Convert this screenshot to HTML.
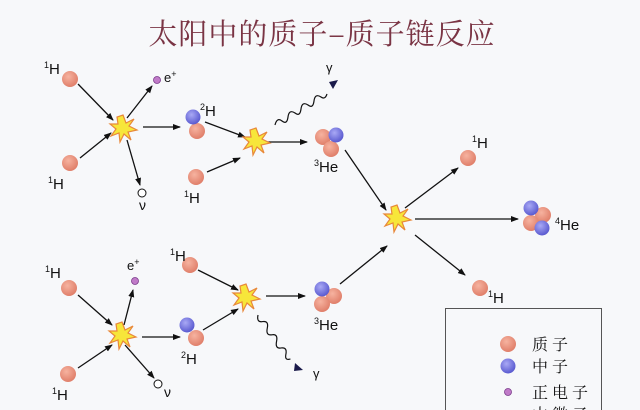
<!DOCTYPE html>
<html><head><meta charset="utf-8"><style>
html,body{margin:0;padding:0;background:#f7f8fa;}
svg{display:block;}
text{font-family:"Liberation Sans",sans-serif;fill:#111;}
.cj{font-family:"Noto Serif CJK SC","Noto Sans CJK SC",serif;}
</style></head><body>
<svg width="640" height="410" viewBox="0 0 640 410" xmlns="http://www.w3.org/2000/svg">
<defs>
<radialGradient id="p" cx="40%" cy="35%" r="65%"><stop offset="0" stop-color="#f6b3a0"/><stop offset="1" stop-color="#e07f6a"/></radialGradient>
<radialGradient id="n" cx="40%" cy="35%" r="65%"><stop offset="0" stop-color="#a9a9f5"/><stop offset="1" stop-color="#5a5ad0"/></radialGradient>
<marker id="a" markerWidth="8" markerHeight="8" refX="7" refY="4" orient="auto" markerUnits="userSpaceOnUse"><path d="M0,1 L8,4 L0,7 Z" fill="#111"/></marker>
<g id="st"><polygon points="0,-13 3,-5 11,-9 6,-2 14,2 5,4 8,12 1,6 -3,14 -4,5 -12,8 -7,1 -13,-4 -5,-4 -6,-11" fill="#f7e63a" stroke="#e8883a" stroke-width="1.2"/></g>
</defs>
<rect width="640" height="410" fill="#f7f8fa"/>
<text x="322" y="44" text-anchor="middle" class="cj" font-size="29" style="fill:#7a3444" letter-spacing="1">太阳中的质子–质子链反应</text>
<g stroke="#111" stroke-width="1.3" fill="none" marker-end="url(#a)">
<line x1="78" y1="84" x2="113" y2="120"/><line x1="80" y1="158" x2="111" y2="133"/>
<line x1="127" y1="118" x2="152" y2="86"/><line x1="127" y1="140" x2="140" y2="185"/>
<line x1="143" y1="127" x2="180" y2="127"/><line x1="205" y1="122" x2="245" y2="137"/>
<line x1="207" y1="172" x2="240" y2="158"/><line x1="265" y1="142" x2="307" y2="142"/>
<line x1="345" y1="150" x2="386" y2="210"/><line x1="405" y1="208" x2="458" y2="168"/>
<line x1="415" y1="219" x2="518" y2="219"/><line x1="415" y1="235" x2="465" y2="275"/>
<line x1="78" y1="295" x2="112" y2="325"/><line x1="78" y1="368" x2="112" y2="345"/>
<line x1="124" y1="325" x2="133" y2="290"/><line x1="125" y1="345" x2="154" y2="378"/>
<line x1="142" y1="337" x2="180" y2="337"/><line x1="198" y1="270" x2="238" y2="290"/>
<line x1="203" y1="330" x2="238" y2="309"/><line x1="266" y1="296" x2="305" y2="296"/>
<line x1="340" y1="284" x2="387" y2="246"/>
</g>
<path d="M275,125 q2,-8 7,-4 q5,4 6,-4 q1,-8 7,-4 q5,4 6,-4 q1,-8 7,-4 q5,4 6,-4 q1,-8 7,-4 q4,3 6,-3" stroke="#111" stroke-width="1.2" fill="none"/>
<polygon points="329,82 338,80 333,89" fill="#1a1a4a"/>
<path d="M258,315 q-5,6 1,8 q6,2 1,8 q-5,6 1,8 q6,2 1,8 q-5,6 1,8 q6,2 1,8 q-4,5 2,6" stroke="#111" stroke-width="1.2" fill="none" transform="rotate(-28 258 315)"/>
<polygon points="295,363 303,370 294,371" fill="#1a1a4a"/>
<use href="#st" x="123" y="128"/><use href="#st" x="256" y="141"/><use href="#st" x="397" y="218"/>
<use href="#st" x="122" y="335"/><use href="#st" x="246" y="297"/>
<g fill="url(#p)">
<circle cx="70" cy="79" r="8"/><circle cx="70" cy="163" r="8"/><circle cx="197" cy="131" r="8"/>
<circle cx="196" cy="177" r="8"/><circle cx="323" cy="137" r="8"/><circle cx="331" cy="149" r="8"/>
<circle cx="468" cy="158" r="8"/><circle cx="480" cy="288" r="8"/>
<circle cx="543" cy="215" r="8"/><circle cx="531" cy="223" r="8"/>
<circle cx="69" cy="288" r="8"/><circle cx="68" cy="374" r="8"/><circle cx="196" cy="338" r="8"/>
<circle cx="190" cy="265" r="8"/><circle cx="334" cy="296" r="8"/><circle cx="322" cy="304" r="8"/>
<circle cx="508" cy="344" r="8"/>
</g>
<g fill="url(#n)">
<circle cx="193" cy="117" r="7.5"/><circle cx="336" cy="135" r="7.5"/>
<circle cx="531" cy="208" r="7.5"/><circle cx="542" cy="228" r="7.5"/>
<circle cx="187" cy="325" r="7.5"/><circle cx="322" cy="289" r="7.5"/>
<circle cx="508" cy="366" r="7.5"/>
</g>
<g fill="#c07ac8" stroke="#7a3a8a" stroke-width="0.8">
<circle cx="157" cy="80" r="3.5"/><circle cx="135" cy="281" r="3.5"/><circle cx="508" cy="392" r="3.5"/>
</g>
<g fill="#fff" stroke="#111" stroke-width="1"><circle cx="142" cy="193" r="4"/><circle cx="158" cy="384" r="4"/></g>
<g font-size="15">
<text x="44" y="74"><tspan font-size="9" dy="-6">1</tspan><tspan dy="6">H</tspan></text>
<text x="48" y="189"><tspan font-size="9" dy="-6">1</tspan><tspan dy="6">H</tspan></text>
<text x="200" y="116"><tspan font-size="9" dy="-6">2</tspan><tspan dy="6">H</tspan></text>
<text x="184" y="203"><tspan font-size="9" dy="-6">1</tspan><tspan dy="6">H</tspan></text>
<text x="314" y="172"><tspan font-size="9" dy="-6">3</tspan><tspan dy="6">He</tspan></text>
<text x="472" y="148"><tspan font-size="9" dy="-6">1</tspan><tspan dy="6">H</tspan></text>
<text x="555" y="230"><tspan font-size="9" dy="-6">4</tspan><tspan dy="6">He</tspan></text>
<text x="488" y="303"><tspan font-size="9" dy="-6">1</tspan><tspan dy="6">H</tspan></text>
<text x="45" y="278"><tspan font-size="9" dy="-6">1</tspan><tspan dy="6">H</tspan></text>
<text x="52" y="400"><tspan font-size="9" dy="-6">1</tspan><tspan dy="6">H</tspan></text>
<text x="170" y="261"><tspan font-size="9" dy="-6">1</tspan><tspan dy="6">H</tspan></text>
<text x="181" y="364"><tspan font-size="9" dy="-6">2</tspan><tspan dy="6">H</tspan></text>
<text x="314" y="330"><tspan font-size="9" dy="-6">3</tspan><tspan dy="6">He</tspan></text>
<text x="164" y="82" font-size="13">e<tspan font-size="9" dy="-5">+</tspan></text>
<text x="127" y="270" font-size="13">e<tspan font-size="9" dy="-5">+</tspan></text>
<text x="139" y="210" font-size="14">ν</text>
<text x="164" y="397" font-size="14">ν</text>
<text x="326" y="72" font-size="13">γ</text>
<text x="313" y="378" font-size="13">γ</text>
</g>
<rect x="445.5" y="308.5" width="156" height="110" fill="none" stroke="#555" stroke-width="1"/>
<g class="cj" font-size="16" style="fill:#222" letter-spacing="4">
<text x="532" y="350" class="cj">质子</text>
<text x="532" y="372" class="cj">中子</text>
<text x="532" y="398" class="cj">正电子</text>
<text x="532" y="420" class="cj">中微子</text>
</g>
</svg>
</body></html>
